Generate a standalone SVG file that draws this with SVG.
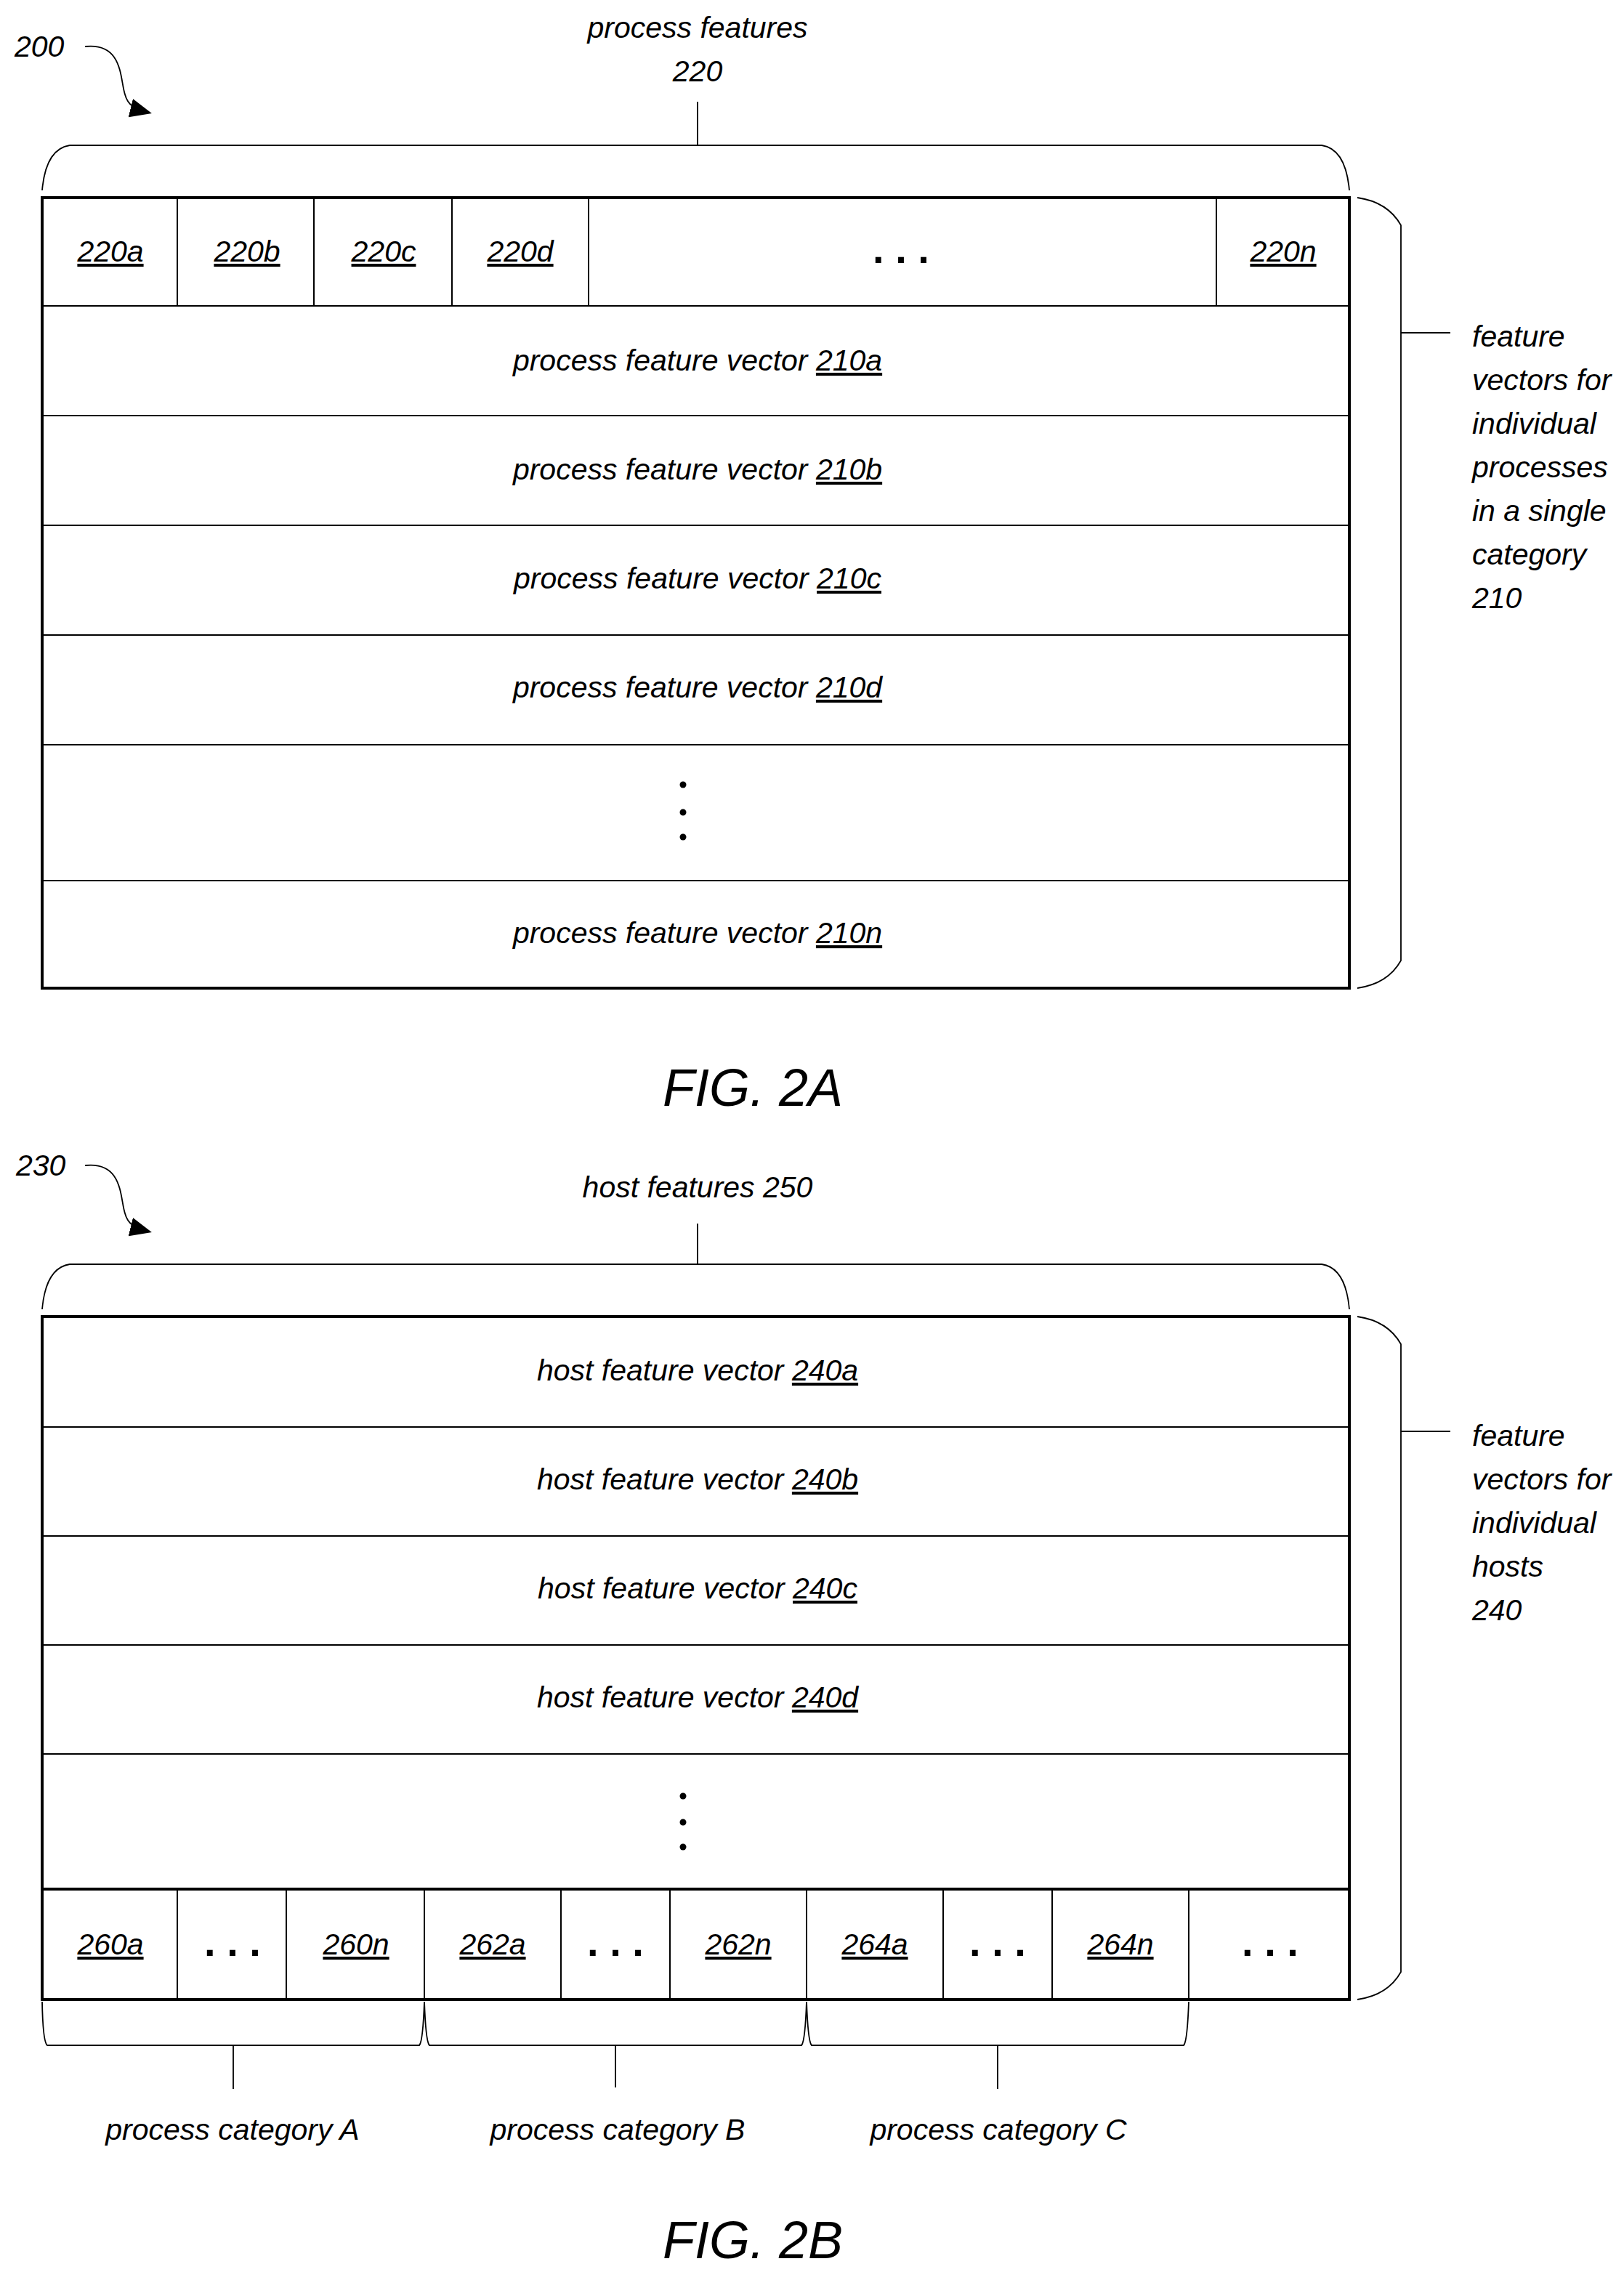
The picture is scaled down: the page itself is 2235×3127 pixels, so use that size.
<svg xmlns="http://www.w3.org/2000/svg" width="2235" height="3127" viewBox="0 0 2235 3127">
<style>
text{font-family:"Liberation Sans",Arial,sans-serif;font-style:italic;font-size:41px;fill:#000}
.c{text-anchor:middle}
.u{text-decoration:underline}
.fig{font-size:72px;font-style:italic}
.dots{font-style:normal;font-weight:bold;font-size:56px}
.thick{fill:none;stroke:#000;stroke-width:4}
.thin{fill:none;stroke:#000;stroke-width:2}
.br{fill:none;stroke:#000;stroke-width:1.8}
</style>
<defs>
<marker id="ah2" markerWidth="30" markerHeight="26" refX="26" refY="13" orient="auto" markerUnits="userSpaceOnUse"><path d="M0,0 L30,13 L0,26 z" fill="#000"/></marker>
</defs>

<g id="fig2a-ref"><text x="20" y="78">200</text></g>
<g id="fig2a-top-label">
<text class="c" x="960" y="52">process features</text>
<text class="c" x="960" y="112">220</text>
</g>
<g id="fig2a-table">
<rect class="thick" x="58" y="272" width="1799" height="1088"/>
<path class="thin" d="M58,421H1857M58,572H1857M58,723H1857M58,874H1857M58,1025H1857M58,1212H1857"/>
<path class="thin" d="M244,272V421M432,272V421M622,272V421M810,272V421M1674,272V421"/>
<text class="c u" x="152" y="360">220a</text>
<text class="c u" x="340" y="360">220b</text>
<text class="c u" x="528" y="360">220c</text>
<text class="c u" x="716" y="360">220d</text>
<text class="c dots" x="1240" y="362">. . .</text>
<text class="c u" x="1766" y="360">220n</text>
<text class="c" x="960" y="510">process feature vector <tspan class="u">210a</tspan></text>
<text class="c" x="960" y="660">process feature vector <tspan class="u">210b</tspan></text>
<text class="c" x="960" y="810">process feature vector <tspan class="u">210c</tspan></text>
<text class="c" x="960" y="960">process feature vector <tspan class="u">210d</tspan></text>
<circle cx="940" cy="1080" r="4.5"/><circle cx="940" cy="1118" r="4.5"/><circle cx="940" cy="1152" r="4.5"/>
<text class="c" x="960" y="1298">process feature vector <tspan class="u">210n</tspan></text>
</g>
<g id="fig2a-side-label">
<text x="2026" y="477">feature</text>
<text x="2026" y="537">vectors for</text>
<text x="2026" y="597">individual</text>
<text x="2026" y="657">processes</text>
<text x="2026" y="717">in a single</text>
<text x="2026" y="777">category</text>
<text x="2026" y="837">210</text>
</g>
<g id="fig2a-caption"><text class="c fig" x="1036" y="1522">FIG. 2A</text></g>

<g id="fig2b-ref"><text x="22" y="1618">230</text></g>
<g id="fig2b-top-label"><text class="c" x="960" y="1648">host features 250</text></g>
<g id="fig2b-table">
<rect class="thick" x="58" y="1812" width="1799" height="940"/>
<path class="thin" d="M58,1964H1857M58,2114H1857M58,2264H1857M58,2414H1857"/>
<path class="thick" d="M58,2600H1857"/>
<path class="thin" d="M244,2600V2752M394,2600V2752M584,2600V2752M772,2600V2752M922,2600V2752M1110,2600V2752M1298,2600V2752M1448,2600V2752M1636,2600V2752"/>
<text class="c" x="960" y="1900">host feature vector <tspan class="u">240a</tspan></text>
<text class="c" x="960" y="2050">host feature vector <tspan class="u">240b</tspan></text>
<text class="c" x="960" y="2200">host feature vector <tspan class="u">240c</tspan></text>
<text class="c" x="960" y="2350">host feature vector <tspan class="u">240d</tspan></text>
<circle cx="940" cy="2472" r="4.5"/><circle cx="940" cy="2508" r="4.5"/><circle cx="940" cy="2542" r="4.5"/>
<text class="c u" x="152" y="2690">260a</text>
<text class="c dots" x="320" y="2692">. . .</text>
<text class="c u" x="490" y="2690">260n</text>
<text class="c u" x="678" y="2690">262a</text>
<text class="c dots" x="847" y="2692">. . .</text>
<text class="c u" x="1016" y="2690">262n</text>
<text class="c u" x="1204" y="2690">264a</text>
<text class="c dots" x="1373" y="2692">. . .</text>
<text class="c u" x="1542" y="2690">264n</text>
<text class="c dots" x="1748" y="2692">. . .</text>
</g>
<g id="fig2b-side-label">
<text x="2026" y="1990">feature</text>
<text x="2026" y="2050">vectors for</text>
<text x="2026" y="2110">individual</text>
<text x="2026" y="2170">hosts</text>
<text x="2026" y="2230">240</text>
</g>
<g id="fig2b-categories">
<text class="c" x="320" y="2945">process category A</text>
<text class="c" x="850" y="2945">process category B</text>
<text class="c" x="1374" y="2945">process category C</text>
</g>
<g id="fig2b-caption"><text class="c fig" x="1036" y="3108">FIG. 2B</text></g>

<g id="connectors">
<path d="M117,64 C170,58 165,110 172,130 C176,145 185,150 205,155" class="br" stroke-width="4" marker-end="url(#ah2)"/>
<path d="M117,1604 C170,1598 165,1650 172,1670 C176,1685 185,1690 205,1695" class="br" stroke-width="4" marker-end="url(#ah2)"/>
<path class="br" d="M960,140V200M58,262Q63,205 96,200H1819Q1852,205 1857,262"/>
<path class="br" d="M1868,272Q1910,278 1928,310V1322Q1910,1354 1868,1360M1928,458H1996"/>
<path class="br" d="M960,1684V1740M58,1802Q63,1745 96,1740H1819Q1852,1745 1857,1802"/>
<path class="br" d="M1868,1812Q1910,1818 1928,1850V2714Q1910,2746 1868,2752M1928,1970H1996"/>
<path class="br" d="M58,2755Q59,2810 65,2815H577Q582,2810 584,2755Q586,2810 591,2815H1103Q1108,2810 1110,2755Q1112,2810 1117,2815H1629Q1634,2810 1636,2755"/>
<path class="br" d="M321,2815V2875M847,2815V2873M1373,2815V2875"/>
</g>
</svg>
